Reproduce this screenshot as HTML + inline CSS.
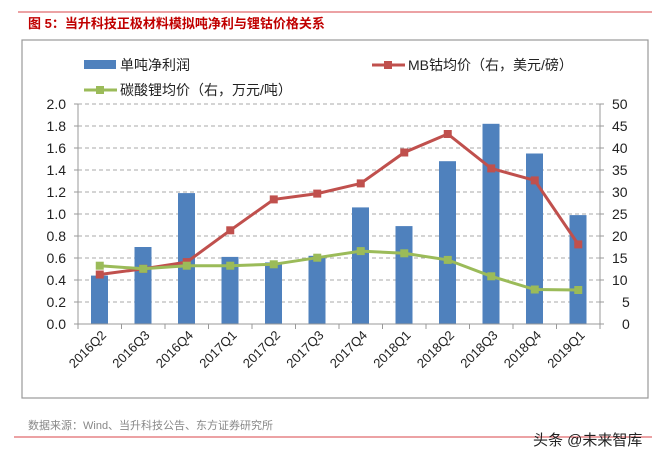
<!DOCTYPE html>
<html><head><meta charset="utf-8"><style>
body{margin:0;background:#fff;}
svg{display:block;font-family:"Liberation Sans","Noto Sans CJK SC",sans-serif;}
</style></head><body>
<svg width="669" height="461" viewBox="0 0 669 461" xmlns="http://www.w3.org/2000/svg">
<line x1="18" y1="12" x2="652" y2="12" stroke="#d9444a" stroke-width="1"/>
<text x="28" y="28" font-size="13" font-weight="bold" fill="#c00000">图 5：当升科技正极材料模拟吨净利与锂钴价格关系</text>
<rect x="22" y="40" width="626" height="358" fill="#fff" stroke="#999" stroke-width="1.2"/>
<g stroke="#aaa" stroke-dasharray="4,3" stroke-width="1">
<line x1="78" y1="104" x2="600" y2="104"/><line x1="78" y1="126" x2="600" y2="126"/>
<line x1="78" y1="148" x2="600" y2="148"/><line x1="78" y1="170" x2="600" y2="170"/>
<line x1="78" y1="192" x2="600" y2="192"/><line x1="78" y1="214" x2="600" y2="214"/>
<line x1="78" y1="236" x2="600" y2="236"/><line x1="78" y1="258" x2="600" y2="258"/>
<line x1="78" y1="280" x2="600" y2="280"/><line x1="78" y1="302" x2="600" y2="302"/>
</g>
<g fill="#4f81bd">
<rect x="91" y="275.6" width="17" height="48.4"/>
<rect x="134.5" y="247" width="17" height="77"/>
<rect x="178" y="193.1" width="17" height="130.9"/>
<rect x="221.5" y="256.9" width="17" height="67.1"/>
<rect x="265" y="262.4" width="17" height="61.6"/>
<rect x="308.5" y="255.8" width="17" height="68.2"/>
<rect x="352" y="207.4" width="17" height="116.6"/>
<rect x="395.5" y="226.1" width="17" height="97.9"/>
<rect x="439" y="161.2" width="17" height="162.8"/>
<rect x="482.5" y="123.8" width="17" height="200.2"/>
<rect x="526" y="153.5" width="17" height="170.5"/>
<rect x="569.5" y="215.1" width="17" height="108.9"/>
</g>
<g stroke="#999" stroke-width="1">
<line x1="78" y1="104" x2="78" y2="324"/><line x1="600" y1="104" x2="600" y2="324"/>
<line x1="74" y1="324" x2="604" y2="324"/>
<path d="M74 104h4M74 126h4M74 148h4M74 170h4M74 192h4M74 214h4M74 236h4M74 258h4M74 280h4M74 302h4M600 104h4M600 126h4M600 148h4M600 170h4M600 192h4M600 214h4M600 236h4M600 258h4M600 280h4M600 302h4"/>
<path d="M78 324v5M121.5 324v5M165 324v5M208.5 324v5M252 324v5M295.5 324v5M339 324v5M382.5 324v5M426 324v5M469.5 324v5M513 324v5M556.5 324v5M600 324v5"/>
</g>
<polyline fill="none" stroke="#c0504d" stroke-width="3" points="99.75,274.5 143.25,268.8 186.75,262.1 230.25,230.3 273.75,199.4 317.25,193.6 360.75,183.4 404.25,152.5 447.75,134 491.25,168.4 534.75,180.4 578.25,244.4"/>
<g fill="#c0504d">
<rect x="95.75" y="270.5" width="8" height="8"/><rect x="139.25" y="264.8" width="8" height="8"/><rect x="182.75" y="258.1" width="8" height="8"/><rect x="226.25" y="226.3" width="8" height="8"/><rect x="269.75" y="195.4" width="8" height="8"/><rect x="313.25" y="189.6" width="8" height="8"/><rect x="356.75" y="179.4" width="8" height="8"/><rect x="400.25" y="148.5" width="8" height="8"/><rect x="443.75" y="130" width="8" height="8"/><rect x="487.25" y="164.4" width="8" height="8"/><rect x="530.75" y="176.4" width="8" height="8"/><rect x="574.25" y="240.4" width="8" height="8"/>
</g>
<polyline fill="none" stroke="#9bbb59" stroke-width="3" points="99.75,265.7 143.25,268.8 186.75,265.7 230.25,265.7 273.75,264.3 317.25,257.7 360.75,251.1 404.25,253.3 447.75,259.9 491.25,276.3 534.75,289.5 578.25,290"/>
<g fill="#9bbb59">
<rect x="95.75" y="261.7" width="8" height="8"/><rect x="139.25" y="264.8" width="8" height="8"/><rect x="182.75" y="261.7" width="8" height="8"/><rect x="226.25" y="261.7" width="8" height="8"/><rect x="269.75" y="260.3" width="8" height="8"/><rect x="313.25" y="253.7" width="8" height="8"/><rect x="356.75" y="247.1" width="8" height="8"/><rect x="400.25" y="249.3" width="8" height="8"/><rect x="443.75" y="255.9" width="8" height="8"/><rect x="487.25" y="272.3" width="8" height="8"/><rect x="530.75" y="285.5" width="8" height="8"/><rect x="574.25" y="286" width="8" height="8"/>
</g>
<g font-size="14" fill="#222" text-anchor="end">
<text x="66" y="109">2.0</text><text x="66" y="131">1.8</text><text x="66" y="153">1.6</text><text x="66" y="175">1.4</text><text x="66" y="197">1.2</text><text x="66" y="219">1.0</text><text x="66" y="241">0.8</text><text x="66" y="263">0.6</text><text x="66" y="285">0.4</text><text x="66" y="307">0.2</text><text x="66" y="329">0.0</text>
</g>
<g font-size="14" fill="#222" text-anchor="start">
<text x="612" y="109">50</text><text x="612" y="131">45</text><text x="612" y="153">40</text><text x="612" y="175">35</text><text x="612" y="197">30</text><text x="612" y="219">25</text><text x="612" y="241">20</text><text x="612" y="263">15</text><text x="612" y="285">10</text><text x="622" y="307">5</text><text x="622" y="329">0</text>
</g>
<g font-size="13" fill="#222" text-anchor="end">
<text transform="translate(107,336) rotate(-45)">2016Q2</text>
<text transform="translate(150.5,336) rotate(-45)">2016Q3</text>
<text transform="translate(194,336) rotate(-45)">2016Q4</text>
<text transform="translate(237.5,336) rotate(-45)">2017Q1</text>
<text transform="translate(281,336) rotate(-45)">2017Q2</text>
<text transform="translate(324.5,336) rotate(-45)">2017Q3</text>
<text transform="translate(368,336) rotate(-45)">2017Q4</text>
<text transform="translate(411.5,336) rotate(-45)">2018Q1</text>
<text transform="translate(455,336) rotate(-45)">2018Q2</text>
<text transform="translate(498.5,336) rotate(-45)">2018Q3</text>
<text transform="translate(542,336) rotate(-45)">2018Q4</text>
<text transform="translate(585.5,336) rotate(-45)">2019Q1</text>
</g>
<rect x="84" y="60" width="32" height="9" fill="#4f81bd"/>
<text x="120" y="70" font-size="14" fill="#222">单吨净利润</text>
<line x1="372" y1="65" x2="405" y2="65" stroke="#c0504d" stroke-width="3"/><rect x="384" y="61" width="8" height="8" fill="#c0504d"/>
<text x="408" y="70" font-size="14" fill="#222">MB钴均价（右，美元/磅）</text>
<line x1="84" y1="90" x2="117" y2="90" stroke="#9bbb59" stroke-width="3"/><rect x="96" y="86" width="8" height="8" fill="#9bbb59"/>
<text x="120" y="95" font-size="14" fill="#222">碳酸锂均价（右，万元/吨）</text>
<text x="28" y="429" font-size="11" fill="#888">数据来源：Wind、当升科技公告、东方证券研究所</text>
<line x1="14" y1="437" x2="652" y2="437" stroke="#d9444a" stroke-width="1"/>
<text x="533" y="445" font-size="15" fill="#222">头条 @未来智库</text>
</svg>
</body></html>
